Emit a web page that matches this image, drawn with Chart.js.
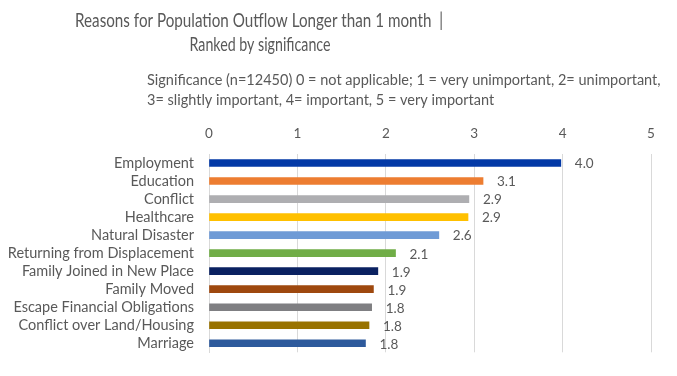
<!DOCTYPE html>
<html>
<head>
<meta charset="utf-8">
<script src="https://cdn.jsdelivr.net/npm/chart.js@4/dist/chart.umd.min.js"></script>
<style>
  html, body { margin: 0; padding: 0; background: #fff; }
  #wrap { width: 677px; height: 376px; }
</style>
</head>
<body>
<div id="wrap"><canvas id="chart" width="677" height="376"></canvas></div>
<script>
// data
var reasons = ["Employment", "Education", "Conflict", "Healthcare", "Natural Disaster",
  "Returning from Displacement", "Family Joined in New Place", "Family Moved",
  "Escape Financial Obligations", "Conflict over Land/Housing", "Marriage"];
var scores = [3.98, 3.10, 2.94, 2.93, 2.60, 2.11, 1.91, 1.86, 1.84, 1.81, 1.77];
var barColors = ["#0339A6", "#ED7D31", "#AEAEB1", "#FFC000", "#6F9BD6", "#70AD47",
  "#0A2161", "#9E480E", "#7F7F82", "#997300", "#2E5A9C"];
var titleLines = ["Reasons for Population Outflow Longer than 1 month  |", "Ranked by significance"];
var noteLines = ["Significance (n=12450) 0 = not applicable; 1 = very unimportant, 2= unimportant,",
  "3= slightly important, 4= important, 5 = very important"];

var FONT = "Lato, 'Open Sans', sans-serif";
var GREY = "#595959";

// titles drawn as canvas text (squeezed a bit to mimic the narrow original face)
var textPlugin = {
  id: "texts",
  afterDraw: function (chart) {
    var ctx = chart.ctx;
    ctx.save();
    ctx.fillStyle = GREY;
    ctx.textBaseline = "middle";
    ctx.textAlign = "center";
    ctx.font = "18.5px " + FONT;
    ctx.fillText(titleLines[0], 259, 21, 368);
    ctx.fillText(titleLines[1], 260, 45, 141);
    ctx.textAlign = "left";
    ctx.font = "14.5px " + FONT;
    ctx.fillText(noteLines[0], 147, 80, 523);
    ctx.fillText(noteLines[1], 147, 100);
    ctx.restore();
  }
};

// value labels at bar ends
var valuePlugin = {
  id: "values",
  afterDatasetsDraw: function (chart) {
    var ctx = chart.ctx;
    var meta = chart.getDatasetMeta(0);
    ctx.save();
    ctx.fillStyle = GREY;
    ctx.font = "13.5px " + FONT;
    ctx.textAlign = "left";
    ctx.textBaseline = "middle";
    meta.data.forEach(function (bar, i) {
      ctx.fillText(scores[i].toFixed(1), bar.x + 14, bar.y + 1);
    });
    ctx.restore();
  }
};

var ctx = document.getElementById("chart").getContext("2d");
new Chart(ctx, {
  type: "bar",
  data: {
    labels: reasons,
    datasets: [{
      data: scores,
      backgroundColor: barColors,
      barThickness: 7
    }]
  },
  options: {
    indexAxis: "y",
    responsive: false,
    animation: false,
    layout: { padding: { left: 0, right: 26, top: 0, bottom: 9 } },
    plugins: {
      legend: { display: false },
      tooltip: { enabled: false }
    },
    scales: {
      x: {
        position: "top",
        min: 0,
        max: 5,
        afterFit: function (scale) { scale.height = 154; },
        ticks: { stepSize: 1, color: GREY, font: { family: FONT, size: 13.5 }, padding: 12 },
        grid: { color: "#D9D9D9", drawTicks: false },
        border: { display: false }
      },
      y: {
        afterFit: function (scale) { scale.width = 209; },
        ticks: { autoSkip: false, color: GREY, font: { family: FONT, size: 14.5 }, padding: 15 },
        grid: { display: false, drawTicks: false },
        border: { display: true, color: "#D9D9D9" }
      }
    }
  },
  plugins: [textPlugin, valuePlugin]
});
</script>
</body>
</html>
